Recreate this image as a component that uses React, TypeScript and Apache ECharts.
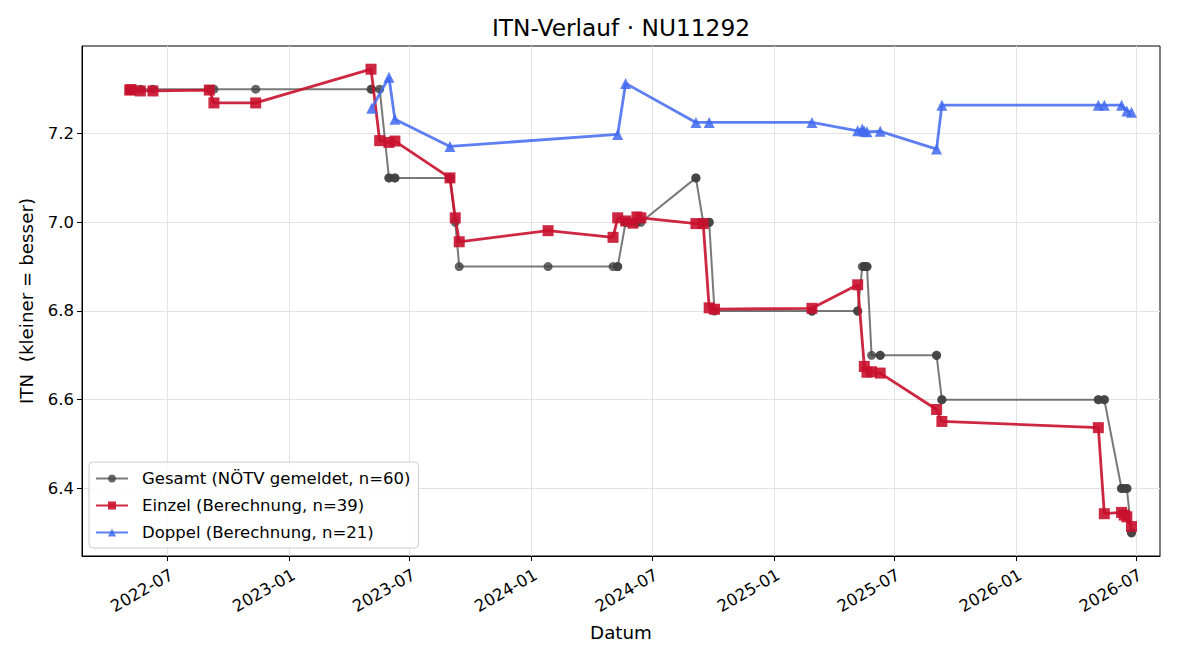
import React, { useEffect, useRef } from "react";
import * as echarts from "echarts";

// Gesamt-ITN laut NÖTV, ein Eintrag je gemeldetem Spiel
const overallDates = [
  "2022-05-05", "2022-05-07", "2022-05-21", "2022-06-09", "2022-09-02", "2022-09-09",
  "2022-11-11", "2023-05-04", "2023-05-05", "2023-05-17", "2023-05-31", "2023-05-31",
  "2023-06-09", "2023-06-09", "2023-08-31", "2023-08-31", "2023-09-08", "2023-09-14",
  "2024-01-26", "2024-05-03", "2024-05-10", "2024-05-10", "2024-05-22", "2024-05-22",
  "2024-06-02", "2024-06-08", "2024-06-14", "2024-09-05", "2024-09-05", "2024-09-16",
  "2024-09-25", "2024-09-25", "2024-10-03", "2025-02-27", "2025-02-27", "2025-05-07",
  "2025-05-07", "2025-05-14", "2025-05-17", "2025-05-17", "2025-05-21", "2025-05-21",
  "2025-05-28", "2025-06-10", "2025-06-10", "2025-09-03", "2025-09-03", "2025-09-11",
  "2025-09-11", "2026-05-05", "2026-05-05", "2026-05-14", "2026-05-14", "2026-06-09",
  "2026-06-09", "2026-06-13", "2026-06-17", "2026-06-17", "2026-06-24", "2026-06-24",
];
const overallValues = [
  7.3, 7.3, 7.3, 7.3, 7.3, 7.3,
  7.3, 7.3, 7.3, 7.3, 7.1, 7.1,
  7.1, 7.1, 7.1, 7.1, 7.0, 6.9,
  6.9, 6.9, 6.9, 6.9, 7.0, 7.0,
  7.0, 7.0, 7.0, 7.1, 7.1, 7.0,
  7.0, 7.0, 6.8, 6.8, 6.8, 6.8,
  6.8, 6.9, 6.9, 6.9, 6.9, 6.9,
  6.7, 6.7, 6.7, 6.7, 6.7, 6.6,
  6.6, 6.6, 6.6, 6.6, 6.6, 6.4,
  6.4, 6.4, 6.4, 6.4, 6.3, 6.3,
];

// Einzel-ITN (berechnet)
const singlesDates = [
  "2022-05-05", "2022-05-07", "2022-05-21", "2022-06-09", "2022-09-02", "2022-09-09",
  "2022-11-11", "2023-05-04", "2023-05-17", "2023-05-31", "2023-06-09", "2023-08-31",
  "2023-09-08", "2023-09-14", "2024-01-26", "2024-05-03", "2024-05-10", "2024-05-22",
  "2024-06-02", "2024-06-08", "2024-06-14", "2024-09-05", "2024-09-16", "2024-09-25",
  "2024-10-03", "2025-02-27", "2025-05-07", "2025-05-17", "2025-05-21", "2025-05-28",
  "2025-06-10", "2025-09-03", "2025-09-11", "2026-05-05", "2026-05-14", "2026-06-09",
  "2026-06-13", "2026-06-17", "2026-06-24",
];
const singlesValues = [
  7.298, 7.299, 7.296, 7.296, 7.298, 7.269,
  7.269, 7.345, 7.184, 7.180, 7.183, 7.100,
  7.010, 6.956, 6.981, 6.966, 7.010, 7.003,
  6.998, 7.012, 7.010, 6.997, 6.997, 6.807,
  6.804, 6.806, 6.859, 6.675, 6.662, 6.663,
  6.660, 6.578, 6.551, 6.537, 6.343, 6.346,
  6.340, 6.336, 6.314,
];

// Doppel-ITN (berechnet)
const doublesDates = [
  "2023-05-05", "2023-05-31", "2023-06-09", "2023-08-31", "2024-05-10", "2024-05-22",
  "2024-09-05", "2024-09-25", "2025-02-27", "2025-05-07", "2025-05-14", "2025-05-17",
  "2025-05-21", "2025-06-10", "2025-09-03", "2025-09-11", "2026-05-05", "2026-05-14",
  "2026-06-09", "2026-06-17", "2026-06-24",
];
const doublesValues = [
  7.257, 7.327, 7.232, 7.171, 7.198, 7.313,
  7.225, 7.225, 7.225, 7.206, 7.210, 7.205,
  7.204, 7.205, 7.165, 7.264, 7.264, 7.264,
  7.264, 7.251, 7.248,
];

const xTickMonths = [
  "2022-07", "2023-01", "2023-07", "2024-01", "2024-07",
  "2025-01", "2025-07", "2026-01", "2026-07",
];
const yTicks = [6.4, 6.6, 6.8, 7.0, 7.2];

const xRange = ["2022-02-22", "2026-08-06"];
const yRange = [6.2477, 7.3973];

const FONT = "DejaVu Sans";

// Dates are mapped to UTC milliseconds on a numeric axis
const toTime = (s: string) => {
  const [y, m, d] = s.split("-").map(Number);
  return Date.UTC(y, m - 1, d || 1);
};

const pairs = (dates: string[], values: number[]) =>
  dates.map((d, i) => [toTime(d), values[i]]);

export default function App() {
  const ref = useRef<HTMLDivElement>(null);

  useEffect(() => {
    if (!ref.current) return;
    const chart = echarts.init(ref.current, null, { renderer: "svg" });
    const xTicks = xTickMonths.map((m) => toTime(m));

    chart.setOption({
      animation: false,
      backgroundColor: "#ffffff",
      title: {
        text: "ITN-Verlauf · NU11292",
        // centred over the plot area (grid spans x = 82 … 1160)
        left: 621,
        textAlign: "center",
        top: 16,
        padding: 0,
        textStyle: { fontFamily: FONT, fontSize: 23.3, fontWeight: "normal", color: "#000" },
      },
      legend: {
        orient: "vertical",
        left: 89,
        top: 462,
        data: [
          "Gesamt (NÖTV gemeldet, n=60)",
          "Einzel (Berechnung, n=39)",
          "Doppel (Berechnung, n=21)",
        ],
        itemWidth: 32,
        itemHeight: 10,
        itemGap: 10,
        padding: [8, 8, 7, 6],
        borderColor: "#cccccc",
        borderWidth: 1,
        borderRadius: 4,
        backgroundColor: "rgba(255,255,255,0.85)",
        textStyle: { fontFamily: FONT, fontSize: 16.5, color: "#000", padding: [0, 0, 0, 9] },
      },
      grid: {
        left: 82,
        right: 40,
        top: 46,
        bottom: 104,
        show: true,
        borderColor: "#000",
        borderWidth: 1,
        backgroundColor: "transparent",
      },
      xAxis: {
        type: "value",
        min: toTime(xRange[0]),
        max: toTime(xRange[1]),
        name: "Datum",
        nameLocation: "middle",
        nameGap: 67,
        nameTextStyle: { fontFamily: FONT, fontSize: 18.3, color: "#000" },
        axisLine: { show: true, onZero: false, lineStyle: { color: "#000", width: 1 } },
        axisTick: { show: true, length: 5, customValues: xTicks, lineStyle: { color: "#000" } },
        axisLabel: {
          customValues: xTicks,
          rotate: 30,
          margin: 10,
          verticalAlign: "top",
          fontFamily: FONT,
          fontSize: 16.5,
          color: "#000",
          formatter: (v: number) => {
            const d = new Date(v);
            const m = d.getUTCMonth() + 1;
            return `${d.getUTCFullYear()}-${m < 10 ? "0" + m : m}`;
          },
        },
        splitLine: { show: true, lineStyle: { color: "#e3e3e3", width: 1 } },
      },
      yAxis: {
        type: "value",
        min: yRange[0],
        max: yRange[1],
        name: "ITN  (kleiner = besser)",
        nameLocation: "middle",
        nameGap: 47,
        nameTextStyle: { fontFamily: FONT, fontSize: 18.3, color: "#000" },
        axisLine: { show: true, onZero: false, lineStyle: { color: "#000", width: 1 } },
        axisTick: { show: true, length: 5, customValues: yTicks, lineStyle: { color: "#000" } },
        axisLabel: {
          customValues: yTicks,
          margin: 8,
          fontFamily: FONT,
          fontSize: 16.5,
          color: "#000",
          formatter: (v: number) => v.toFixed(1),
        },
        splitLine: { show: true, lineStyle: { color: "#e3e3e3", width: 1 } },
      },
      series: [
        {
          name: "Gesamt (NÖTV gemeldet, n=60)",
          type: "line",
          data: pairs(overallDates, overallValues),
          symbol: "circle",
          symbolSize: 9,
          lineStyle: { color: "#404040", width: 2, opacity: 0.7 },
          itemStyle: { color: "#404040", opacity: 0.8 },
          z: 2,
        },
        {
          name: "Einzel (Berechnung, n=39)",
          type: "line",
          data: pairs(singlesDates, singlesValues),
          symbol: "rect",
          symbolSize: 11,
          lineStyle: { color: "#c8102e", width: 2.8, opacity: 0.9 },
          itemStyle: { color: "#c8102e", opacity: 0.9 },
          z: 3,
        },
        {
          name: "Doppel (Berechnung, n=21)",
          type: "line",
          data: pairs(doublesDates, doublesValues),
          symbol: "triangle",
          symbolSize: 11,
          lineStyle: { color: "#4169f0", width: 2.8, opacity: 0.85 },
          itemStyle: { color: "#4169f0", opacity: 0.85 },
          z: 4,
        },
      ],
    });

    return () => chart.dispose();
  }, []);

  return <div ref={ref} style={{ width: 1200, height: 660, position: "absolute", left: 0, top: 0 }} />;
}
